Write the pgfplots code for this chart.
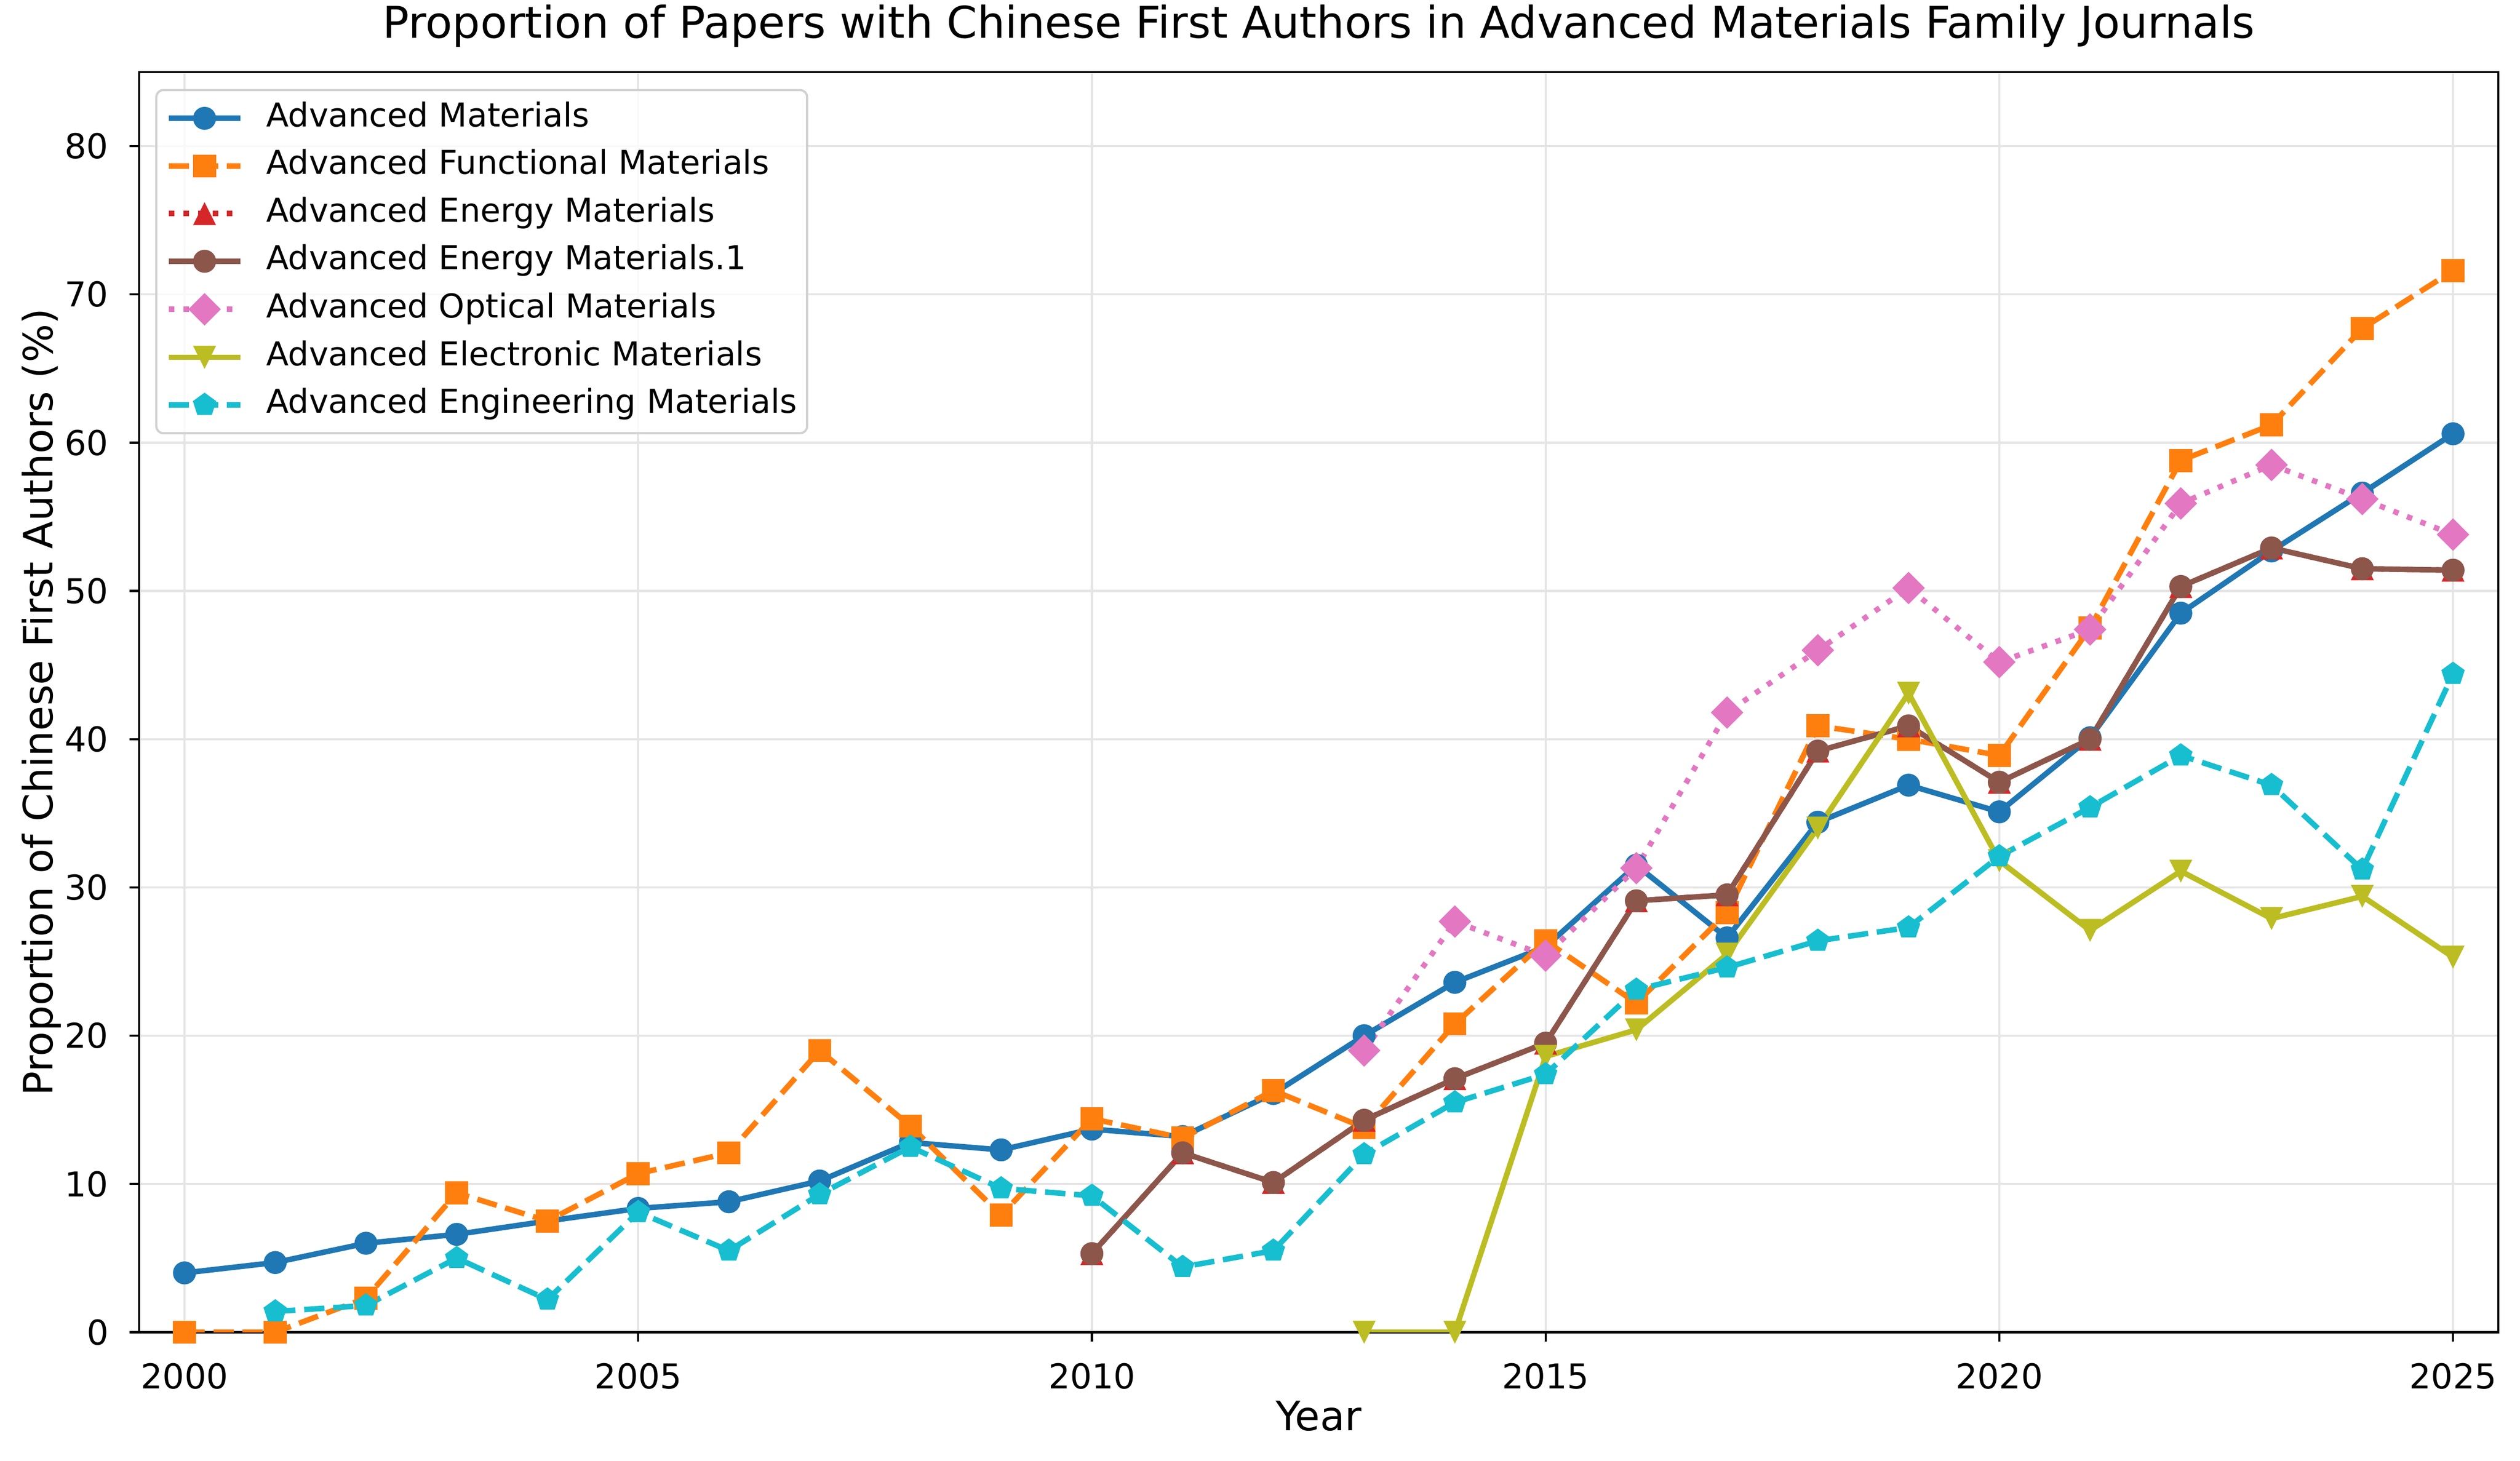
\documentclass[border=0pt]{standalone}
\usepackage{fontspec}
\setmainfont{DejaVu Sans}
\usepackage{pgfplots}
\pgfplotsset{compat=1.18}
\definecolor{cA}{HTML}{1F77B4}
\definecolor{cB}{HTML}{FF7F0E}
\definecolor{cC}{HTML}{D62728}
\definecolor{cD}{HTML}{8C564B}
\definecolor{cE}{HTML}{E377C2}
\definecolor{cF}{HTML}{BCBD22}
\definecolor{cG}{HTML}{17BECF}
\pgfdeclareplotmark{mcirc}{\pgfpathcircle{\pgfpointorigin}{\pgfplotmarksize}\pgfusepathqfill}
\pgfdeclareplotmark{msq}{\pgfpathrectangle{\pgfqpoint{-\pgfplotmarksize}{-\pgfplotmarksize}}{\pgfqpoint{2\pgfplotmarksize}{2\pgfplotmarksize}}\pgfusepathqfill}
\pgfdeclareplotmark{mtri}{\pgfpathmoveto{\pgfqpoint{0pt}{\pgfplotmarksize}}\pgfpathlineto{\pgfqpoint{-\pgfplotmarksize}{-\pgfplotmarksize}}\pgfpathlineto{\pgfqpoint{\pgfplotmarksize}{-\pgfplotmarksize}}\pgfpathclose\pgfusepathqfill}
\pgfdeclareplotmark{mtrid}{\pgfpathmoveto{\pgfqpoint{0pt}{-\pgfplotmarksize}}\pgfpathlineto{\pgfqpoint{-\pgfplotmarksize}{\pgfplotmarksize}}\pgfpathlineto{\pgfqpoint{\pgfplotmarksize}{\pgfplotmarksize}}\pgfpathclose\pgfusepathqfill}
\pgfdeclareplotmark{mdia}{\pgfpathmoveto{\pgfqpoint{0pt}{1.414\pgfplotmarksize}}\pgfpathlineto{\pgfqpoint{-1.414\pgfplotmarksize}{0pt}}\pgfpathlineto{\pgfqpoint{0pt}{-1.414\pgfplotmarksize}}\pgfpathlineto{\pgfqpoint{1.414\pgfplotmarksize}{0pt}}\pgfpathclose\pgfusepathqfill}
\pgfdeclareplotmark{mpent}{\pgfpathmoveto{\pgfpointpolar{90}{\pgfplotmarksize}}\pgfpathlineto{\pgfpointpolar{162}{\pgfplotmarksize}}\pgfpathlineto{\pgfpointpolar{234}{\pgfplotmarksize}}\pgfpathlineto{\pgfpointpolar{306}{\pgfplotmarksize}}\pgfpathlineto{\pgfpointpolar{18}{\pgfplotmarksize}}\pgfpathclose\pgfusepathqfill}
\begin{document}
\begin{tikzpicture}
\useasboundingbox (0,0) rectangle (920.2pt,533.5pt);
\begin{axis}[
  at={(50.8pt,47.0pt)}, anchor=south west,
  scale only axis, width=861.5pt, height=460.2pt,
  xmin=1999.5, xmax=2025.5, ymin=0, ymax=85,
  xtick={2000,2005,...,2025}, ytick={0,10,...,80},
  /pgf/number format/1000 sep={},
  /pgf/number format/assume math mode=true,
  tick align=outside, xtick pos=left, ytick pos=left,
  major tick length=3.5pt,
  tick style={black, line width=0.8pt},
  axis line style={black, line width=0.8pt},
  grid=major, major grid style={color=black!10, line width=0.8pt},
  ticklabel style={font=\fontsize{12.5}{15}\selectfont},
  xticklabel style={inner sep=0pt, anchor=north, yshift=-7.6pt},
  yticklabel style={inner sep=0pt, anchor=east, xshift=-7.5pt},
  title={Proportion of Papers with Chinese First Authors in Advanced Materials Family Journals},
  title style={font=\fontsize{16}{19}\selectfont, at={(axis description cs:0.5,1)}, anchor=base, yshift=6.5pt, inner sep=0pt},
  xlabel={Year},
  xlabel style={font=\fontsize{14.8}{17}\selectfont, at={(axis description cs:0.5,0)}, anchor=base, yshift=-35.9pt, inner sep=0pt},
  ylabel={Proportion of Chinese First Authors (\%)},
  ylabel style={font=\fontsize{14.8}{17}\selectfont, at={(axis description cs:-0.0366,0.5)}, anchor=base, rotate=0, inner sep=0pt},
  legend style={at={(0,1)}, anchor=north west, xshift=5.9pt, yshift=-6.2pt,
    draw=black!18, line width=0.8pt, rounded corners=2.5pt, fill=white, fill opacity=0.8, draw opacity=1, text opacity=1,
    inner xsep=3.6pt, inner ysep=4.5pt, row sep=5.8pt, column sep=8.5pt,
    font=\fontsize{12}{14}\selectfont,
    nodes={inner sep=0pt, text height=8.8pt, text depth=2.8pt}},
  legend cell align=left,
  legend image code/.code={\draw[mark repeat=2,mark phase=2,opacity=1] plot coordinates {(0pt,0pt) (13pt,0pt) (26pt,0pt)};},
]
\addplot[color=cA, line width=2pt, line join=round, mark=mcirc, mark size=4.2pt, mark options={solid}] coordinates {
(2000,4.0) (2001,4.7) (2002,6.0) (2003,6.6) (2004,7.5) (2005,8.35) (2006,8.8) (2007,10.2) (2008,12.8) (2009,12.3)
(2010,13.7) (2011,13.2) (2012,16.1) (2013,20.0) (2014,23.6) (2015,26.0) (2016,31.5) (2017,26.6) (2018,34.4) (2019,36.9)
(2020,35.1) (2021,40.1) (2022,48.5) (2023,52.7) (2024,56.6) (2025,60.6)};
\addlegendentry{Advanced Materials}
\addplot[color=cB, line width=2pt, line join=round, dash pattern=on 7.4pt off 3.2pt, mark=msq, mark size=4.2pt, mark options={solid}] coordinates {
(2000,0.0) (2001,0.0) (2002,2.3) (2003,9.4) (2004,7.5) (2005,10.7) (2006,12.1) (2007,19.0) (2008,13.9) (2009,7.9)
(2010,14.4) (2011,13.1) (2012,16.3) (2013,13.8) (2014,20.8) (2015,26.4) (2016,22.2) (2017,28.3) (2018,40.9) (2019,40.0)
(2020,38.9) (2021,47.5) (2022,58.8) (2023,61.2) (2024,67.7) (2025,71.6)};
\addlegendentry{Advanced Functional Materials}
\addplot[color=cC, line width=2pt, line join=round, dash pattern=on 2pt off 3.3pt, mark=mtri, mark size=4.2pt, mark options={solid}] coordinates {
(2010,5.3) (2011,12.1) (2012,10.1) (2013,14.3) (2014,17.1) (2015,19.5) (2016,29.1) (2017,29.5) (2018,39.2) (2019,40.9)
(2020,37.1) (2021,40.0) (2022,50.3) (2023,52.9) (2024,51.5) (2025,51.4)};
\addlegendentry{Advanced Energy Materials}
\addplot[color=cD, line width=2pt, line join=round, mark=mcirc, mark size=4.2pt, mark options={solid}] coordinates {
(2010,5.3) (2011,12.1) (2012,10.1) (2013,14.3) (2014,17.1) (2015,19.5) (2016,29.1) (2017,29.5) (2018,39.2) (2019,40.9)
(2020,37.1) (2021,40.0) (2022,50.3) (2023,52.9) (2024,51.5) (2025,51.4)};
\addlegendentry{Advanced Energy Materials.1}
\addplot[color=cE, line width=2pt, line join=round, dash pattern=on 2pt off 3.3pt, mark=mdia, mark size=4.2pt, mark options={solid}] coordinates {
(2013,19.0) (2014,27.7) (2015,25.4) (2016,31.3) (2017,41.8) (2018,46.0) (2019,50.2) (2020,45.2) (2021,47.4) (2022,55.9)
(2023,58.5) (2024,56.2) (2025,53.8)};
\addlegendentry{Advanced Optical Materials}
\addplot[color=cF, line width=2pt, line join=round, mark=mtrid, mark size=4.2pt, mark options={solid}] coordinates {
(2013,0.0) (2014,0.0) (2015,18.6) (2016,20.4) (2017,25.5) (2018,34.0) (2019,43.1) (2020,31.8) (2021,27.1) (2022,31.1)
(2023,27.9) (2024,29.4) (2025,25.3)};
\addlegendentry{Advanced Electronic Materials}
\addplot[color=cG, line width=2pt, line join=round, dash pattern=on 7.4pt off 3.2pt, mark=mpent, mark size=4.5pt, mark options={solid}] coordinates {
(2001,1.4) (2002,1.8) (2003,5.0) (2004,2.2) (2005,8.1) (2006,5.5) (2007,9.3) (2008,12.5) (2009,9.7) (2010,9.2)
(2011,4.4) (2012,5.5) (2013,12.0) (2014,15.5) (2015,17.4) (2016,23.1) (2017,24.6) (2018,26.4) (2019,27.3) (2020,32.1)
(2021,35.4) (2022,38.9) (2023,36.9) (2024,31.2) (2025,44.4)};
\addlegendentry{Advanced Engineering Materials}
\end{axis}
\end{tikzpicture}
\end{document}
